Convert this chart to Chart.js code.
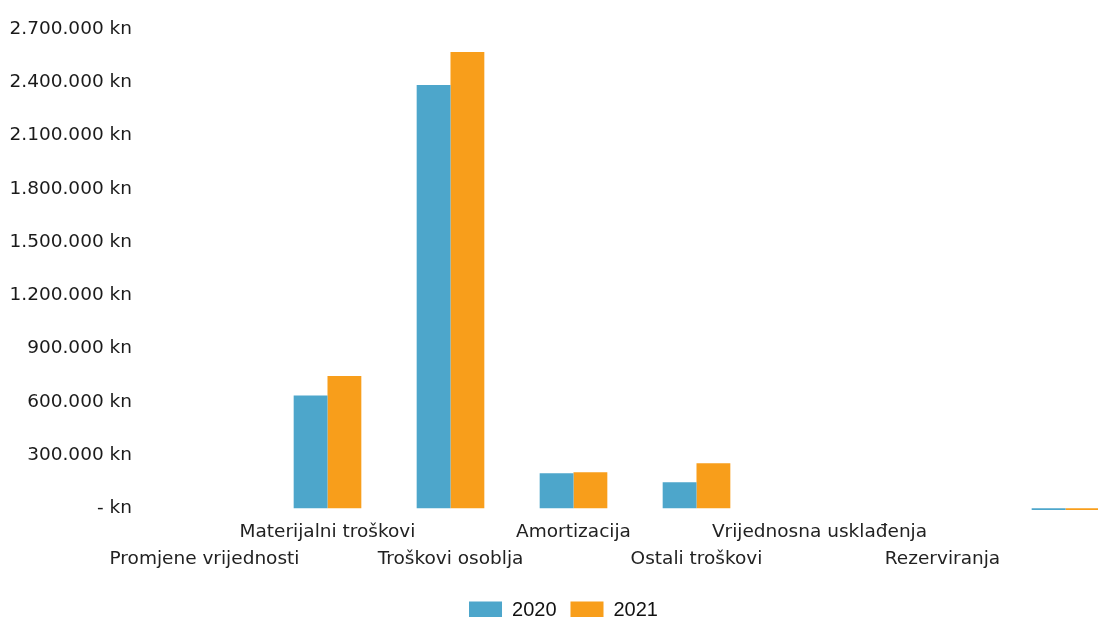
<!DOCTYPE html>
<html>
<head>
<meta charset="utf-8">
<script src="https://cdn.jsdelivr.net/npm/chart.js@4"></script>
<style>
  html, body { margin: 0; padding: 0; background: #fff; overflow: hidden; }
  #wrap { width: 1127px; height: 630px; position: relative; }
</style>
</head>
<body>
<div id="wrap"><canvas id="troskovi"></canvas></div>
<script>
// ── Podaci (kn)
const kategorije = [
  'Promjene vrijednosti', 'Materijalni troškovi', 'Troškovi osoblja', 'Amortizacija',
  'Ostali troškovi', 'Vrijednosna usklađenja', 'Rezerviranja', ''
];
const god2020 = [0, 635000, 2385000, 197000, 147000, 0, 0, -10000];
const god2021 = [0, 745000, 2570000, 203000, 254000, 0, 0, -10000];
const yTicks  = [0, 300000, 600000, 900000, 1200000, 1500000, 1800000, 2100000, 2400000, 2700000];

const PLAVA = '#4da6cb';
const NARANCASTA = '#f89e1b';

// ── 2.700.000 kn / - kn
function kn(v) {
  if (v === 0) return '- kn';
  return String(Math.round(v)).replace(/\B(?=(\d{3})+(?!\d))/g, '.') + ' kn';
}

new Chart(document.getElementById('troskovi'), {
  type: 'bar',
  data: {
    labels: kategorije,
    datasets: [
      { label: '2020', data: god2020, backgroundColor: PLAVA, borderWidth: 0 },
      { label: '2021', data: god2021, backgroundColor: NARANCASTA, borderWidth: 0 }
    ]
  },
  options: {
    responsive: true,
    maintainAspectRatio: false,
    animation: false,
    layout: { padding: { left: 0, right: 0, top: 29, bottom: 0 } },
    datasets: { bar: { categoryPercentage: 0.55, barPercentage: 1.0 } },
    plugins: {
      tooltip: { enabled: false },
      legend: {
        position: 'bottom',
        labels: {
          color: '#111',
          font: { family: 'Liberation Sans', size: 20 },
          boxWidth: 33, boxHeight: 17, padding: 14
        }
      }
    },
    scales: {
      x: {
        grid: { display: false },
        border: { display: false },
        afterFit: ax => { ax.height += 13; },
        ticks: {
          autoSkip: false, maxRotation: 0, minRotation: 0, padding: 0,
          color: '#222',
          font: { family: 'DejaVu Sans', size: 18.5, lineHeight: 1.46 },
          // naizmjenični redovi natpisa
          callback: (v, i) => i % 2 === 1 ? [kategorije[i], ''] : ['', kategorije[i]]
        }
      },
      y: {
        min: -15000,
        max: 2700000,
        grid: { display: false },
        border: { display: false },
        afterFit: ax => { ax.width = 143; },
        afterBuildTicks: ax => { ax.ticks = yTicks.map(v => ({ value: v })); },
        ticks: {
          color: '#1a1a1a', padding: 3,
          font: { family: 'DejaVu Sans', size: 18.5 },
          callback: v => kn(v)
        }
      }
    }
  }
});
</script>
</body>
</html>
